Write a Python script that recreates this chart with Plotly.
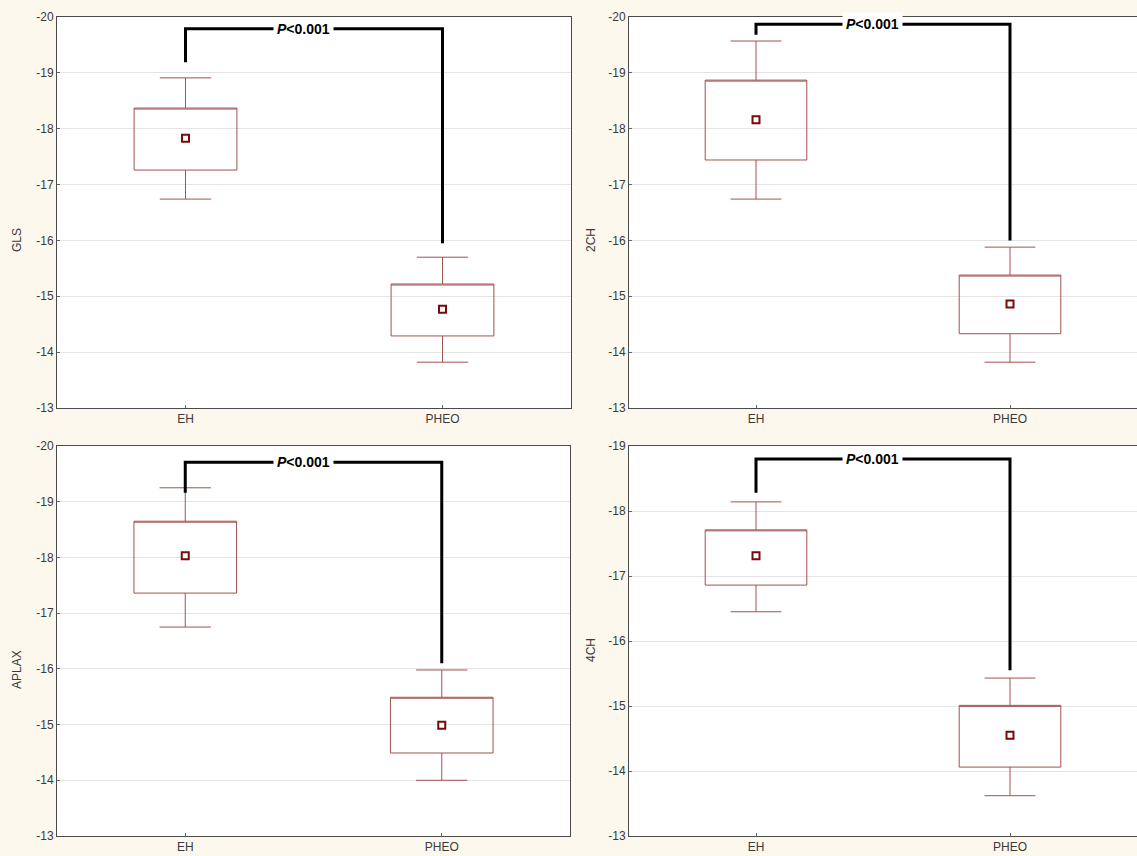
import plotly.graph_objects as go

W, H = 1137, 856
categories = ["EH", "PHEO"]

panel_titles = ["GLS", "2CH", "APLAX", "4CH"]
means = [[-17.83, -14.77], [-18.16, -14.86], [-18.03, -14.99], [-17.31, -14.55]]
box_top = [[-18.37, -15.22], [-18.87, -15.38], [-18.65, -15.49], [-17.71, -15.01]]
box_bot = [[-17.26, -14.29], [-17.44, -14.33], [-17.36, -14.49], [-16.86, -14.06]]
whisk_top = [[-18.91, -15.70], [-19.57, -15.88], [-19.25, -15.98], [-18.14, -15.43]]
whisk_bot = [[-16.74, -13.82], [-16.74, -13.82], [-16.75, -14.00], [-16.45, -13.62]]
bracket_top = [-19.79, -19.87, -19.71, -18.80]
bracket_leg_eh = [-19.19, -19.68, -19.16, -18.28]
bracket_leg_pheo = [-15.95, -16.00, -16.10, -15.55]
y_ranges = [[-13, -20], [-13, -20], [-13, -20], [-13, -19]]
y_ticks = [[-20, -19, -18, -17, -16, -15, -14, -13]] * 3 + [[-19, -18, -17, -16, -15, -14, -13]]
p_label = "<b><i>P</i>&lt;0.001</b>"

# panel domains in pixels (left, right, top, bottom)
panels = [(57, 571, 17, 408), (629, 1137, 17, 408), (57, 570, 446, 836), (629, 1137, 446, 836)]
title_pos = [(17, 240), (591, 240), (17, 670), (591, 650)]

BOX_COLOR = "#A05250"
MEAN_COLOR = "#7A0A0A"
BG = "#FDF8EE"
FONT = "Liberation Sans, Arial, sans-serif"

fig = go.Figure()
for i in range(4):
    xa = "x" if i == 0 else f"x{i+1}"
    ya = "y" if i == 0 else f"y{i+1}"
    fig.add_trace(go.Box(
        x=categories,
        q1=box_top[i], q3=box_bot[i], median=box_top[i],
        lowerfence=whisk_top[i], upperfence=whisk_bot[i],
        width=0.4, whiskerwidth=0.5,
        fillcolor="rgba(0,0,0,0)",
        line=dict(color=BOX_COLOR, width=1),
        boxpoints=False, hoverinfo="skip", showlegend=False,
        xaxis=xa, yaxis=ya,
    ))
    fig.add_trace(go.Scatter(
        x=categories, y=means[i], mode="markers",
        marker=dict(symbol="square", size=7, color="white",
                    line=dict(color=MEAN_COLOR, width=2)),
        showlegend=False, hoverinfo="skip", xaxis=xa, yaxis=ya,
    ))
    fig.add_trace(go.Scatter(
        x=[categories[0], categories[0], categories[1], categories[1]],
        y=[bracket_leg_eh[i], bracket_top[i], bracket_top[i], bracket_leg_pheo[i]],
        mode="lines", line=dict(color="black", width=3),
        showlegend=False, hoverinfo="skip", xaxis=xa, yaxis=ya,
    ))
    fig.add_annotation(
        x=0.46, y=bracket_top[i], xref=xa, yref=ya, text=p_label,
        showarrow=False, bgcolor="white", borderpad=3,
        font=dict(family=FONT, size=14, color="black"),
    )
    l, r, t, b = panels[i]
    axcommon = dict(showline=True, linecolor="#4A4A4A", linewidth=1, mirror=True,
                    ticks="inside", ticklen=3, tickcolor="#666", automargin=False,
                    tickfont=dict(family=FONT, size=12, color="#3A3A3A"))
    fig.update_layout(**{
        ("xaxis" if i == 0 else f"xaxis{i+1}"): dict(
            domain=[l / W, r / W], anchor=ya, type="category",
            categoryorder="array", categoryarray=categories,
            range=[-0.5, 1.5], showgrid=False, zeroline=False, **axcommon),
        ("yaxis" if i == 0 else f"yaxis{i+1}"): dict(
            domain=[1 - b / H, 1 - t / H], anchor=xa,
            range=y_ranges[i], tickvals=y_ticks[i],
            ticktext=[str(v) for v in y_ticks[i]],
            showgrid=True, gridcolor="#E4E4E4",
            gridwidth=1, zeroline=False, **axcommon),
    })
    tx, ty = title_pos[i]
    fig.add_annotation(
        x=tx / W, y=1 - ty / H, xref="paper", yref="paper",
        xanchor="center", yanchor="middle",
        text=panel_titles[i], textangle=-90, showarrow=False,
        font=dict(family=FONT, size=12, color="#3A3A3A"),
    )

fig.update_layout(
    width=W, height=H, margin=dict(l=0, r=0, t=0, b=0, autoexpand=False),
    paper_bgcolor=BG, plot_bgcolor="white", showlegend=False,
)
fig.write_html(
    "out.html",
    config={"displayModeBar": False},
    post_script="document.body.style.margin='0';document.body.style.overflow='hidden';",
)
